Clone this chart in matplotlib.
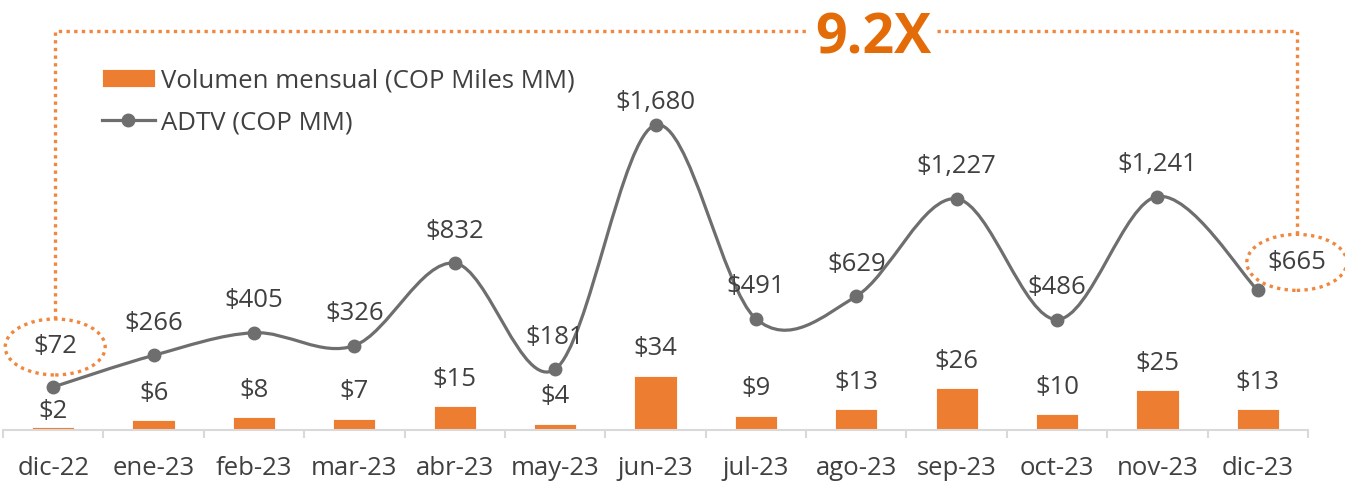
import numpy as np
import matplotlib.pyplot as plt
from matplotlib.path import Path
from matplotlib.patches import PathPatch, Ellipse, Patch
from matplotlib.lines import Line2D
from matplotlib.transforms import IdentityTransform

meses = ["dic-22", "ene-23", "feb-23", "mar-23", "abr-23", "may-23", "jun-23",
         "jul-23", "ago-23", "sep-23", "oct-23", "nov-23", "dic-23"]
volumen = [2, 6, 8, 7, 15, 4, 34, 9, 13, 26, 10, 25, 13]
adtv = [72, 266, 405, 326, 832, 181, 1680, 491, 629, 1227, 486, 1241, 665]
multiplo = "9.2X"

NARANJA = "#ED7D31"
NARANJA_PUNTOS = "#F0873E"
NARANJA_TXT = "#E36C09"
GRIS = "#6E6E6E"
TEXTO = "#404040"
EJE = "#D9D9D9"
FS = 18.5

plt.rcParams['font.family'] = ['Open Sans', 'DejaVu Sans']

W, H = 1345, 484
fig = plt.figure(figsize=(W / 100, H / 100), dpi=100)
ax = fig.add_axes([3 / W, (H - 430) / H, (1308 - 3) / W, (430 - 30) / H])
ax2 = ax.twinx()

x = np.arange(len(meses))

# barras: volumen mensual
ax.bar(x, volumen, width=0.42, color=NARANJA, edgecolor="white", linewidth=0.6, zorder=2)
ax.set_xlim(-0.5, len(meses) - 0.5)
ax.set_ylim(0, 250)
ax2.set_ylim(-192, 2263)


def curva_suave(xs, ys):
    # bezier tipo catmull-rom, como la linea suavizada de excel
    pts = np.column_stack([xs, ys]).astype(float)
    verts = [pts[0]]
    codes = [Path.MOVETO]
    n = len(pts)
    for i in range(n - 1):
        p0 = pts[max(i - 1, 0)]
        p1 = pts[i]
        p2 = pts[i + 1]
        p3 = pts[min(i + 2, n - 1)]
        c1 = p1 + (p2 - p0) / 6
        c2 = p2 - (p3 - p1) / 6
        verts += [c1, c2, p2]
        codes += [Path.CURVE4] * 3
    return Path(verts, codes)


ax2.add_patch(PathPatch(curva_suave(x, adtv), facecolor="none", edgecolor=GRIS,
                        lw=2.3, capstyle="round", zorder=3))
ax2.plot(x, adtv, "o", color=GRIS, ms=9, zorder=4)

# etiquetas de datos
desp_linea = {0: (2, 40), 6: (0, 22), 12: (39, 28)}
for i, v in enumerate(adtv):
    dx, dy = desp_linea.get(i, (0, 32))
    ax2.annotate(f"${v:,}", (i, v), xytext=(dx, dy), textcoords="offset pixels",
                 ha="center", va="center", fontsize=FS, color=TEXTO, zorder=5)

desp_barra = {0: 15}
for i, v in enumerate(volumen):
    dy = desp_barra.get(i, 27)
    ax.annotate(f"${v:,}", (i, v), xytext=(0, dy), textcoords="offset pixels",
                ha="center", va="center", fontsize=FS, color=TEXTO)

# eje x
for s in ["top", "left", "right"]:
    ax.spines[s].set_visible(False)
    ax2.spines[s].set_visible(False)
ax2.spines["bottom"].set_visible(False)
ax.spines["bottom"].set_color(EJE)
ax.spines["bottom"].set_linewidth(1.5)
ax.set_yticks([])
ax2.set_yticks([])
ax.set_xticks(x, meses)
ax.set_xticks(np.arange(-0.5, len(meses)), minor=True)
ax.tick_params(axis="x", which="major", length=0, pad=19, labelsize=FS, labelcolor=TEXTO)
ax.tick_params(axis="x", which="minor", length=6, width=1.5, color=EJE)

# leyenda
handles = [Patch(facecolor=NARANJA, edgecolor="white", linewidth=0.6),
           Line2D([], [], color=GRIS, lw=2.3, marker="o", ms=9)]
ax2.legend(handles, ["Volumen mensual (COP Miles MM)", "ADTV (COP MM)"],
           loc="upper left", bbox_to_anchor=(102 / W, 1 - 68 / H), bbox_transform=fig.transFigure,
           frameon=False, borderpad=0, borderaxespad=0, handlelength=2.05, handleheight=0.72,
           handletextpad=0.25, labelspacing=0.68, fontsize=FS, labelcolor=TEXTO)

# elipses y corchete entre el primer y el ultimo ADTV
puntos = dict(lw=2.4, ls=(0, (1, 1.3)), color=NARANJA_PUNTOS)
c0 = ax2.transData.transform((0, adtv[0])) + np.array(desp_linea[0])
c1 = ax2.transData.transform((len(adtv) - 1, adtv[-1])) + np.array(desp_linea[12])
alto_e = 56
for c in (c0, c1):
    fig.add_artist(Ellipse(c, 100, alto_e, transform=IdentityTransform(),
                           fill=False, edgecolor=NARANJA_PUNTOS, lw=2.4, ls=(0, (1, 1.3))))

y_top = H - 31
x_txt = 873
fig.add_artist(Line2D([c0[0], c0[0], x_txt - 65], [c0[1] + alto_e / 2, y_top, y_top],
                      transform=IdentityTransform(), **puntos))
fig.add_artist(Line2D([x_txt + 64, c1[0], c1[0]], [y_top, y_top, c1[1] + alto_e / 2],
                      transform=IdentityTransform(), **puntos))
fig.text(x_txt / W, (H - 53) / H, multiplo, ha="center", va="baseline",
         fontsize=40, fontweight="bold", color=NARANJA_TXT)

fig.savefig("out.png", dpi=100)
